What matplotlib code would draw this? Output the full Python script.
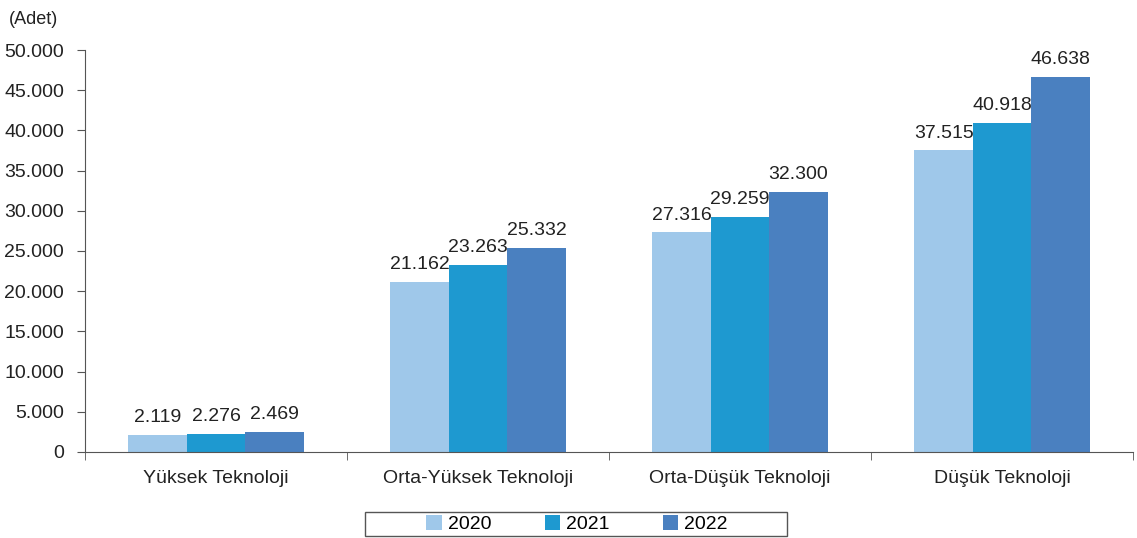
import numpy as np
import matplotlib.pyplot as plt
from matplotlib import font_manager
from matplotlib.patches import Rectangle

names = {f.name for f in font_manager.fontManager.ttflist}
fam = ['Liberation Sans Narrow', 'DejaVu Sans'] if 'Liberation Sans Narrow' in names else ['Liberation Sans', 'DejaVu Sans']
plt.rcParams['font.family'] = fam

categories = ['Yüksek Teknoloji', 'Orta-Yüksek Teknoloji', 'Orta-Düşük Teknoloji', 'Düşük Teknoloji']
years = ['2020', '2021', '2022']
v2020 = [2119, 21162, 27316, 37515]
v2021 = [2276, 23263, 29259, 40918]
v2022 = [2469, 25332, 32300, 46638]
colors = ['#9FC8EA', '#1E99D0', '#4A80C0']


def fmt(v):
    return '{:,}'.format(v).replace(',', '.')


fig = plt.figure(figsize=(11.37, 5.38), dpi=100)
ax = fig.add_axes([0.0748, 0.16, 0.9217, 0.747])

x = np.arange(len(categories))
w = 0.223
for i, (vals, c, yr) in enumerate(zip([v2020, v2021, v2022], colors, years)):
    bars = ax.bar(x + (i - 1) * w, vals, w, color=c, label=yr, linewidth=0)
    for b, v in zip(bars, vals):
        ax.text(b.get_x() + b.get_width() / 2, v + 1100, fmt(v), ha='center', va='bottom',
                fontsize=14, color='#222222')

ax.set_xlim(-0.5, 3.5)
ax.set_ylim(0, 50000)
ax.set_yticks(np.arange(0, 50001, 5000))
ax.set_yticklabels([fmt(v) for v in range(0, 50001, 5000)], fontsize=14, color='#222222')
ax.set_xticks(x)
ax.set_xticklabels(categories, fontsize=14, color='#222222')
ax.tick_params(axis='x', length=0, pad=13)
ax.set_xticks(np.arange(-0.5, 4, 1), minor=True)
ax.tick_params(axis='x', which='minor', length=6, color='#555555')
ax.tick_params(axis='y', length=6, color='#555555', pad=9)
for s in ['top', 'right']:
    ax.spines[s].set_visible(False)
for s in ['left', 'bottom']:
    ax.spines[s].set_color('#555555')

fig.text(0.008, 0.955, '(Adet)', fontsize=13, color='#222222')

# legend box
fig.patches.append(Rectangle((365 / 1137, 1 - 536 / 538), 422 / 1137, 24 / 538,
                             transform=fig.transFigure, fill=False, edgecolor='#555555',
                             linewidth=1.0))
leg = fig.legend(loc='center', bbox_to_anchor=(577 / 1137, 1 - 524 / 538), ncol=3,
                 frameon=False, fontsize=14, handlelength=0.8, handleheight=0.8,
                 columnspacing=2.75, handletextpad=0.3)

fig.savefig('out.png', dpi=100)
